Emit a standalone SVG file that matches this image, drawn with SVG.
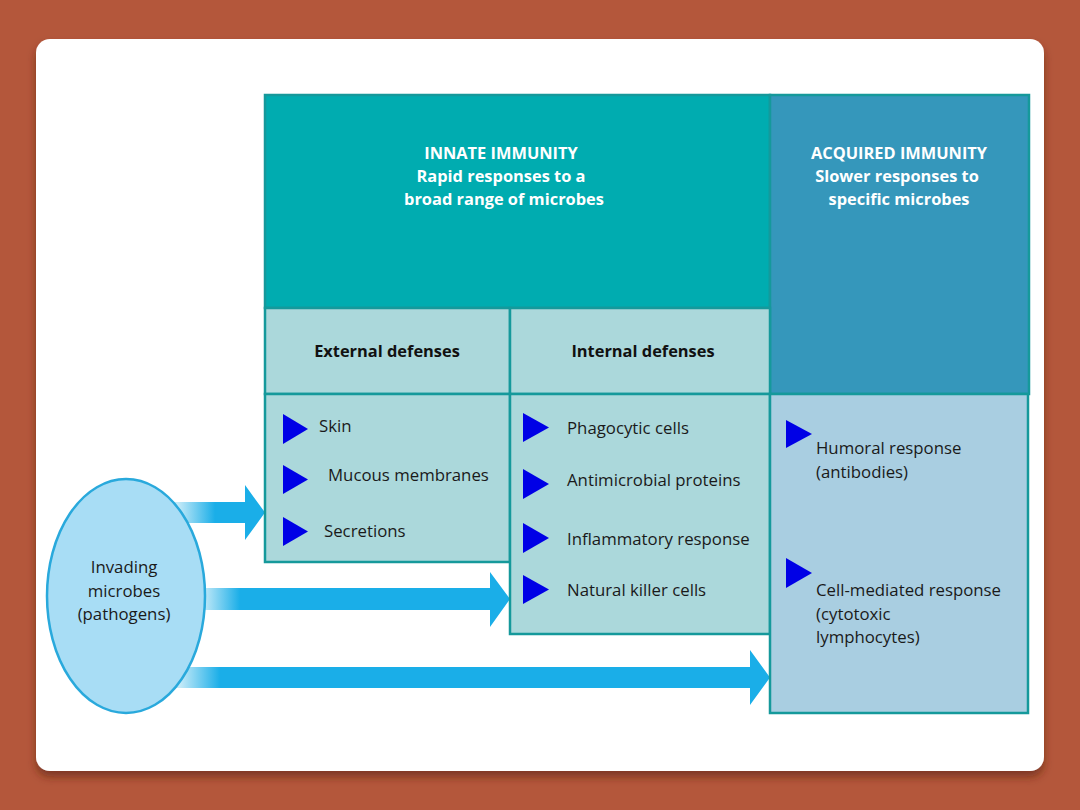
<svg xmlns="http://www.w3.org/2000/svg" width="1080" height="810" viewBox="0 0 1080 810">
<defs>
<style>
.hd{font-family:"Open Sans","Liberation Sans",sans-serif;font-weight:700;font-size:16.4px;fill:#FFFFFF;text-anchor:middle}
.sub{font-family:"Open Sans","Liberation Sans",sans-serif;font-weight:700;font-size:16.4px;fill:#111111;text-anchor:middle}
.t{font-family:"Open Sans","Liberation Sans",sans-serif;font-size:16.8px;fill:#1a1a1a}
.tc{font-family:"Open Sans","Liberation Sans",sans-serif;font-size:16.8px;fill:#1a1a1a;text-anchor:middle}
.cell{stroke:#15999B;stroke-width:2.5}
.tri{fill:#0000E6}
</style>
<linearGradient id="ag1" gradientUnits="userSpaceOnUse" x1="178" y1="0" x2="215" y2="0">
<stop offset="0" stop-color="#C5EAF8"/>
<stop offset="1" stop-color="#1AAEE8"/>
</linearGradient>
<linearGradient id="ag2" gradientUnits="userSpaceOnUse" x1="203" y1="0" x2="240" y2="0">
<stop offset="0" stop-color="#C5EAF8"/>
<stop offset="1" stop-color="#1AAEE8"/>
</linearGradient>
<linearGradient id="ag3" gradientUnits="userSpaceOnUse" x1="180" y1="0" x2="220" y2="0">
<stop offset="0" stop-color="#C5EAF8"/>
<stop offset="1" stop-color="#1AAEE8"/>
</linearGradient>
<filter id="sh" x="-5%" y="-5%" width="110%" height="115%">
<feGaussianBlur in="SourceAlpha" stdDeviation="4"/>
<feOffset dx="0" dy="6" result="b"/>
<feFlood flood-color="#5a2412" flood-opacity="0.6"/>
<feComposite in2="b" operator="in"/>
<feMerge><feMergeNode/><feMergeNode in="SourceGraphic"/></feMerge>
</filter>
</defs>
<rect x="0" y="0" width="1080" height="810" fill="#B4573B"/>
<rect x="36" y="39" width="1008" height="732" rx="14" fill="#FFFFFF" filter="url(#sh)"/>

<g id="innate-header">
<rect x="265" y="95" width="505" height="213" fill="#00ACB0" class="cell"/>
<text class="hd" x="501" y="159">INNATE IMMUNITY</text>
<text class="hd" x="501" y="182">Rapid responses to a</text>
<text class="hd" x="504" y="205">broad range of microbes</text>
</g>
<g id="acquired-header">
<rect x="770" y="95" width="259" height="299" fill="#3597BB" class="cell"/>
<text class="hd" x="899" y="159">ACQUIRED IMMUNITY</text>
<text class="hd" x="897" y="182">Slower responses to</text>
<text class="hd" x="899" y="205">specific microbes</text>
</g>
<g id="external-header">
<rect x="265" y="308" width="245" height="86" fill="#ABD8DB" class="cell"/>
<text class="sub" x="387" y="357">External defenses</text>
</g>
<g id="internal-header">
<rect x="510" y="308" width="260" height="86" fill="#ABD8DB" class="cell"/>
<text class="sub" x="643" y="357">Internal defenses</text>
</g>

<g id="connectors">
<path fill="url(#ag1)" d="M170,502 H245 V485 L265,512.5 L245,540 V523 H170 Z"/>
<path fill="url(#ag2)" d="M190,588 H490 V572 L510,599 L490,627 V610 H190 Z"/>
<path fill="url(#ag3)" d="M170,667 H750 V650 L770,677.5 L750,705 V688 H170 Z"/>
</g>

<g id="external-defenses">
<rect x="265" y="394" width="245" height="168" fill="#ABD8DB" class="cell"/>
<polygon class="tri" points="283,414 308,429 283,444"/>
<text class="t" x="319" y="432">Skin</text>
<polygon class="tri" points="283,465 308,479.5 283,494"/>
<text class="t" x="328" y="481">Mucous membranes</text>
<polygon class="tri" points="283,517 308,531.5 283,546"/>
<text class="t" x="324" y="537">Secretions</text>
</g>

<g id="internal-defenses">
<rect x="510" y="394" width="260" height="240" fill="#ABD8DB" class="cell"/>
<polygon class="tri" points="523,413 549,427.5 523,442"/>
<text class="t" x="567" y="434">Phagocytic cells</text>
<polygon class="tri" points="523,469 549,484 523,499"/>
<text class="t" x="567" y="486">Antimicrobial proteins</text>
<polygon class="tri" points="523,523 549,538 523,553"/>
<text class="t" x="567" y="545">Inflammatory response</text>
<polygon class="tri" points="523,575 549,589.5 523,604"/>
<text class="t" x="567" y="596">Natural killer cells</text>
</g>

<g id="acquired-immunity">
<rect x="770" y="394" width="258" height="319" fill="#A9CEE1" class="cell"/>
<polygon class="tri" points="786,420 812,434 786,448"/>
<text class="t" x="816" y="454">Humoral response</text>
<text class="t" x="816" y="478">(antibodies)</text>
<polygon class="tri" points="786,558 812,573 786,588"/>
<text class="t" x="816" y="596">Cell-mediated response</text>
<text class="t" x="816" y="620">(cytotoxic</text>
<text class="t" x="816" y="643">lymphocytes)</text>
</g>

<g id="invading-microbes">
<ellipse cx="126" cy="596" rx="79" ry="117" fill="#A8DDF5" stroke="#29A9DC" stroke-width="2.5"/>
<text class="tc" x="124" y="573">Invading</text>
<text class="tc" x="124" y="597">microbes</text>
<text class="tc" x="124" y="620">(pathogens)</text>
</g>
</svg>
